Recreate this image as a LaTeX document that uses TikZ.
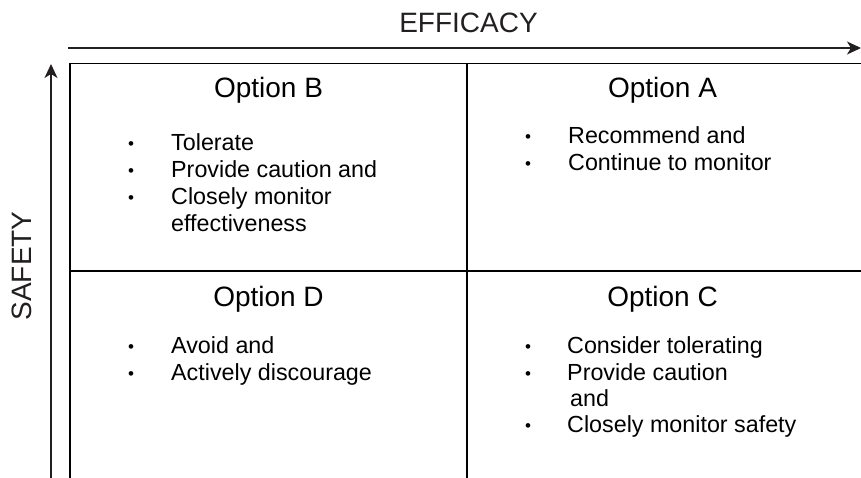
\documentclass[tikz,border=0pt]{standalone}
\usepackage{fontspec}
\setmainfont{Liberation Sans}
\usetikzlibrary{arrows.meta}
\definecolor{ink}{HTML}{231F20}
\begin{document}
\begin{tikzpicture}[x=1pt,y=-1pt,
  gridline/.style={line width=1.5pt,black},
  axis/.style={line width=1.3pt,ink,-{Stealth[length=14pt,width=13pt,inset=4pt]}},
  head/.style={inner sep=0pt,anchor=base,font=\fontsize{28}{30}\selectfont,text=black},
  axlabel/.style={inner sep=0pt,anchor=base,font=\fontsize{28}{30}\selectfont,text=ink},
  item/.style={inner sep=0pt,anchor=base west,font=\fontsize{23.3}{26}\selectfont,text=black},
  dot/.style={inner sep=0pt,anchor=base,font=\fontsize{17}{20}\selectfont,text=black,yshift=1pt}]
\useasboundingbox (0,0) rectangle (861,478);
% grid
\draw[gridline] (70,478) -- (70,63.5) -- (861,63.5);
\draw[gridline] (70,271) -- (861,271);
\draw[gridline] (467,63.5) -- (467,478);
% axes
\coordinate (hs) at (68,48);
\coordinate (he) at (861,48);
\coordinate (vs) at (51,478);
\coordinate (ve) at (51,64);
\draw[axis] (hs) -- (he);
\draw[axis] (vs) -- (ve);
\node[axlabel] (eff) at (468.5,33) {EFFICACY};
\node[axlabel,rotate=90] (saf) at (31,266) {SAFETY};
% Option B
\node[head] (ob) at (268.5,98) {Option B};
\node[dot] (b1d) at (131,151) {•};
\node[item] (b1) at (171,151) {Tolerate};
\node[dot] (b2d) at (131,178) {•};
\node[item] (b2) at (171,178) {Provide caution and};
\node[dot] (b3d) at (131,205) {•};
\node[item] (b3) at (171,205) {Closely monitor};
\node[item] (b4) at (171,232) {effectiveness};
% Option A
\node[head] (oa) at (662.5,98) {Option A};
\node[dot] (a1d) at (528,144) {•};
\node[item] (a1) at (568,144) {Recommend and};
\node[dot] (a2d) at (528,171) {•};
\node[item] (a2) at (568,171) {Continue to monitor};
% Option D
\node[head] (od) at (268.5,306) {Option D};
\node[dot] (d1d) at (131,353) {•};
\node[item] (d1) at (171,353) {Avoid and};
\node[dot] (d2d) at (131,380) {•};
\node[item] (d2) at (171,380) {Actively discourage};
% Option C
\node[head] (oc) at (662.5,306) {Option C};
\node[dot] (c1d) at (528,353) {•};
\node[item] (c1) at (567,353) {Consider tolerating};
\node[dot] (c2d) at (528,380) {•};
\node[item] (c2) at (567,380) {Provide caution};
\node[item] (c3) at (570,406) {and};
\node[dot] (c4d) at (528,432) {•};
\node[item] (c4) at (567,432) {Closely monitor safety};
\end{tikzpicture}
\end{document}
